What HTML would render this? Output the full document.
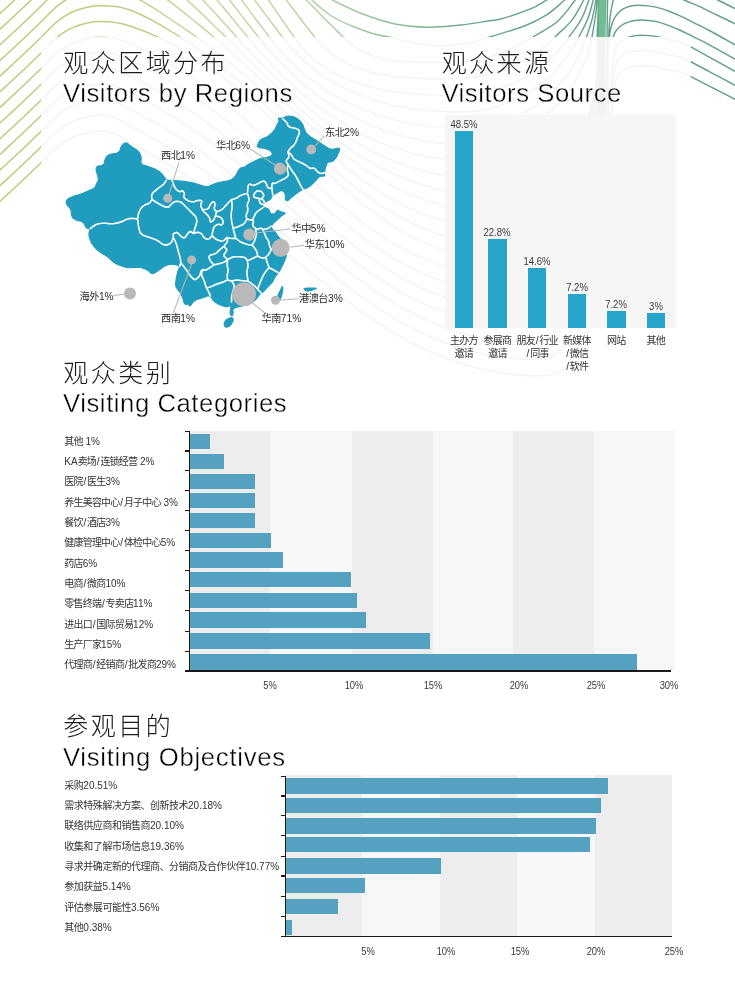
<!DOCTYPE html>
<html lang="zh"><head><meta charset="utf-8"><title>Visitors</title>
<style>
html,body{margin:0;padding:0}
body{width:735px;height:997px;position:relative;overflow:hidden;background:#fff;font-family:"Liberation Sans","Noto Sans CJK SC",sans-serif;color:#222}
#wrap{position:absolute;left:0;top:0;width:735px;height:997px;overflow:hidden;will-change:transform}
.abs{position:absolute}
svg.abs{left:0;top:0}
.t{font-family:"Liberation Sans","Noto Sans CJK SC",sans-serif}
.tc{position:absolute;font-size:25px;line-height:25px;white-space:nowrap;color:#1c1c1c;font-weight:300}
.tc .t{letter-spacing:2.45px}
.ml .t{letter-spacing:-.05em}
.hl .t,.cl .t{letter-spacing:-.08em}
.h2 .t{letter-spacing:-.048em}
.sl{margin:0 .8px}
.te{position:absolute;font-size:25.7px;line-height:38px;letter-spacing:.55px;white-space:nowrap;color:#000;-webkit-text-stroke:.38px #fff}
.ml{position:absolute;font-size:10.2px;line-height:13px;white-space:nowrap;color:#2a2a2a}
.vb{position:absolute;width:18.6px;background:#27a4ca}
.vl{position:absolute;width:60px;text-align:center;font-size:10.6px;line-height:12px;color:#3a3a3a;transform:scaleX(.9)}
.cl{position:absolute;width:80px;text-align:center;font-size:10px;line-height:12.9px;color:#333;white-space:nowrap}
.hb{position:absolute;background:#54a1c1}
.ax{position:absolute;background:#1a1a1a}
.hl{position:absolute;font-size:10px;line-height:13px;white-space:nowrap;color:#333}
.al{position:absolute;width:40px;text-align:center;font-size:10.4px;line-height:13px;color:#3a3a3a;transform:scaleX(.9)}
</style></head><body>
<div id="wrap">
<svg class="abs" width="735" height="997" viewBox="0 0 735 997" fill="none"><defs><linearGradient id="lg" gradientUnits="userSpaceOnUse" x1="0" y1="0" x2="735" y2="0"><stop offset="0" stop-color="#bdcb78"/><stop offset=".177" stop-color="#c0cd80"/><stop offset=".272" stop-color="#c9d49c"/><stop offset=".38" stop-color="#c4d5a6"/><stop offset=".46" stop-color="#a9cfa3"/><stop offset=".545" stop-color="#8abf99"/><stop offset=".61" stop-color="#76af91"/><stop offset=".71" stop-color="#67a48b"/><stop offset="1" stop-color="#64a08c"/></linearGradient><clipPath id="cin"><rect x="41" y="37" width="649.5" height="960"/></clipPath><clipPath id="cout"><path clip-rule="evenodd" d="M0 0H735V997H0ZM41 37V997H690.5V37Z"/></clipPath><path id="wa" d="M-8 208.7C13.1 189.1 30 174.3 50 153.5C64.1 138.8 81.6 131 102 131C115.4 131 124 140 136 146C285.7 220.8 372.6 376 540 376C609.3 376 558.7 253.4 581.5 188C599.7 136.1 602.7 92 604.4 37C604.8 22.2 605.5 10.8 605.8 -4M-8 193C13.1 173.4 30 158.6 50 137.8C64.1 123.1 81.6 115.3 102 115.3C116 115.3 125.4 124.1 138 130.3C285.6 204.1 370 359.5 535 359.5C601.1 359.5 560.4 244.4 582.2 182C599.6 132.2 602.2 89.8 603.8 37C604.2 22.2 604.9 10.8 605.2 -4M-8 177.4C13.1 157.8 30 143 50 122.2C64.1 107.5 81.6 99.7 102 99.7C116.7 99.7 126.8 108.1 140 114.7C285.5 187.5 367.3 343 530 343C593.1 343 562 235.5 582.8 176C599.6 128.3 601.7 87.6 603.2 37C603.7 22.2 604.4 10.8 604.6 -4M-8 161.8C13.1 142.1 30 127.3 50 106.6C64.1 91.8 81.6 84.1 102 84.1C117.4 84.1 128.2 92.2 142 99.1C285.4 170.8 364.6 326.5 525 326.5C585.1 326.5 563.6 226.8 583.5 170C599.5 124.3 601.2 85.4 602.7 37C603.1 22.2 603.8 10.8 604.1 -4M-8 146.1C13.1 126.5 30 111.7 50 90.9C64.1 76.2 81.6 68.4 102 68.4C118.1 68.4 129.6 76.2 144 83.4C285.4 154.1 362 310 520 310C577.4 310 565.2 218.2 584.2 164C599.4 120.4 600.8 83.2 602.2 37C602.6 22.2 603.3 10.8 603.6 -4M-8 130.4C13.1 110.8 30 96 50 75.2C64.1 60.5 81.6 52.8 102 52.8C118.7 52.8 131 60.3 146 67.8C285.3 137.4 359.3 293.5 515 293.5C569.9 293.5 566.7 209.8 584.8 158C599.3 116.5 600.3 81 601.6 37C602 22.2 602.7 10.8 603 -4M-8 114.8C13.1 95.2 30 80.4 50 59.6C64.1 44.9 81.6 37.1 102 37.1C119.4 37.1 132.4 44.3 148 52.1C285.2 120.7 356.6 277 510 277C562.6 277 568.1 201.6 585.5 152C599.3 112.6 599.8 78.8 601.1 37C601.5 22.2 602.2 10.8 602.5 -4M-8 99.2C13.1 79.5 30 64.7 50 44C64.1 29.2 81.6 21.5 102 21.5C112.2 21.5 120.3 22.8 130 26C140.3 29.4 148.2 32.5 158 37C293 99.1 356.4 260.5 505 260.5C555.5 260.5 569.4 193.7 586.1 146C599.2 108.6 599.3 76.6 600.5 37C600.9 22.2 601.6 10.8 601.9 -4M-8 83.5C13.1 63.9 30 49.1 50 28.3C64.1 13.6 81.6 5.8 102 5.8C112.2 5.8 120.4 6.5 130 10C149.2 16.9 162.6 26.2 180 37C296.6 109.3 362.8 244 500 244C548.8 244 570.6 186 586.8 140C599.1 104.7 598.8 74.4 600 37C600.4 22.2 601.1 10.8 601.4 -4M-8 67.9C13.1 48.2 30 33.4 50 12.7C64.1 -2.1 81.6 -9.8 102 -9.8C128.7 -9.8 148.2 3.9 170.2 19C179.6 25.5 187 30.4 196.4 37C300.8 110.2 367.5 227.5 495 227.5C542.3 227.5 571.8 178.7 587.4 134C599 100.8 598.3 72.2 599.4 37C599.8 22.2 600.5 10.8 600.8 -4M-8 52.2C13.1 32.6 30 17.8 50 -3C64.1 -17.7 81.6 -25.5 102 -25.5C138.1 -25.5 164 -3.9 191.9 19C199.8 25.5 206 30.4 213.8 37C303.9 112.5 372.5 211 490 211C536.2 211 572.8 171.7 588 128C598.9 96.9 597.9 70 598.9 37C599.3 22.2 600 10.8 600.2 -4M-8 36.5C13.1 16.9 30 2.1 50 -18.7C64.1 -33.4 81.6 -41.2 102 -41.2C145.7 -41.2 176 -11.4 207.3 19C214 25.5 219.2 30.5 225.8 37C303.3 113.9 375.8 194.5 485 194.5C530.6 194.5 573.7 165 588.7 122C598.9 92.9 597.4 67.8 598.3 37C598.7 22.2 599.4 10.8 599.7 -4M-8 20.9C13.1 1.3 30 -13.5 50 -34.3C64.1 -49 81.6 -56.8 102 -56.8C152.6 -56.8 186.3 -18.5 220.3 19C226.2 25.5 230.9 30.5 236.7 37C304 112.6 378.8 178 480 178C525.3 178 574.4 158.7 589.3 116C598.8 89 596.9 65.6 597.8 37C598.2 22.2 598.9 10.8 599.1 -4M-8 5.2C13.1 -14.4 30 -29.2 50 -50C64.1 -64.7 81.6 -72.5 102 -72.5C159.4 -72.5 196.3 -25.4 232.8 19C238.1 25.5 242.3 30.5 247.5 37C306 109.8 381.6 161.5 475 161.5C520.4 161.5 575 152.8 590 110C598.7 85.1 596.4 63.4 597.2 37C597.6 22.2 598.3 10.8 598.6 -4M224.5 -6C232 2.6 237.1 10 244.2 19C249.3 25.5 253.4 30.5 258.4 37C310.7 104.7 384.5 145 470 145C528.7 145 582.4 94.9 592 37C593.1 30.5 594 25.5 595 19C596 12.5 596.5 7.5 597.3 1C597.5 -0.8 597.6 -2.2 597.7 -4M236.7 -6C244 2.6 248.8 10 255.7 19C260.6 25.5 264.4 30.5 269.3 37C315.7 99.4 387.2 128.5 465 128.5C519.8 128.5 570 89.2 586.5 37C588.5 30.7 590.4 26 592 19.6C593.7 13 594.5 7.7 595.8 1C596.1 -0.8 596.2 -2.2 596.4 -4M249.7 -6C257 2.6 261.8 10 268.7 19C273.6 25.5 277.5 30.5 282.4 37C323.9 92.6 390.6 112 460 112C510.6 112 556.2 82.2 578.8 37C581.9 30.7 584.9 26.1 587.5 19.6C590.1 13.1 591.1 7.7 593 1C593.5 -0.8 593.6 -2.2 594 -4M264.1 -6C270.8 2.7 275.2 10 281.5 19C286 25.5 289.6 30.5 294 37C328.7 88 393.3 95.5 455 95.5C501.1 95.5 542.8 75 569 37C573.3 30.7 577.4 26.3 581 19.6C584.5 13.2 586 7.8 588.6 1C589.3 -0.7 589.5 -2.2 590 -4M281.3 -6C288.7 2.6 293.7 10 300.6 19C305.7 25.5 309.6 30.5 314.6 37C345.5 77.6 399 79 450 79C490.7 79 526.3 65.9 555 37C561.2 30.7 566.9 26.6 572.3 19.6C577.1 13.5 579.4 7.8 583.2 1C584.2 -0.7 584.7 -2.2 585.5 -4M300 -6C309.5 2.5 316 10 325 19C331.5 25.5 336.6 30.5 343 37C369.5 64 407.1 62.5 445 62.5C478 62.5 505.1 54.6 533 37C541.6 31.5 549.3 28.5 557 21.8C564.4 15.4 568.4 8.7 574.5 1C575.8 -0.6 576.4 -2.2 577.5 -4M305 -6C314 1.6 320.3 8.4 330 15C337.3 20 343.7 22.5 351.8 26C359.4 29.3 365.6 31.3 373.5 33.7C378.9 35.3 383.3 35.8 388.8 37C398.2 39.1 405.5 41.3 415 43C423.9 44.6 430.9 45.9 440 46C449 46.1 456 44.4 465 43.5C474.1 42.6 480.9 39.8 489.6 37C502.1 33 512.1 30.7 524.4 26C532.6 22.9 538.8 19.9 546.2 15.2C553 10.9 557.5 6.3 563.6 1C565.4 -0.6 566.4 -2.2 568 -4M320 -8C325.2 -4.8 329 -1.8 334.4 1C344.4 6.1 352.2 10 362.7 14C374.2 18.3 383.3 21.6 395.3 24C406.9 26.3 416.2 27 428 27.2C439.8 27.4 448.9 26.2 460.6 25C471.2 23.9 479.4 22.3 490 20.7C494.6 20 498.2 19.8 502.7 18.5C513 15.5 521 12.8 531 8.7C536.3 6.5 540.1 4 545 1C548.1 -0.9 550.1 -2.8 553 -5"/><path id="wb" d="M608.2 -4C608 -2.3 607.7 -0.7 607.6 1C607.2 13.2 607.2 24.8 607 37C606.8 51.6 606.5 65.4 606.5 80C606.5 107.2 606.8 132.8 607 160M615 -4C614.3 -2.3 613.4 -0.8 613 1C611.7 6.5 610.7 11.8 610 17.4C609.2 24 608.8 30.3 608.6 37C608.1 51.6 608 65.4 608 80C608.1 107.2 608.7 132.8 609 160M609.3 37C609.8 33.9 610 31 610.8 28C611.6 24.9 612.6 21.9 614 19C615.2 16.6 616.7 14.5 618.5 12.5C620 10.9 621.7 9.6 623.6 8.6C626 7.4 628.4 6.6 631 6C633.6 5.4 636.1 5.3 638.8 5.3C641.9 5.3 644.9 5.5 648 5.9C651.4 6.3 654.6 6.8 657.9 7.6C661.7 8.6 665.3 9.8 669 11.2C673 12.7 676.8 14.4 680.7 16.2C685.6 18.5 690.1 20.9 695 23.3C699.9 25.7 704.5 27.9 709.3 30.5C718.1 35.2 726.3 39.9 735 44.8C738.4 46.7 741.6 48.6 745 50.5M613 37C613.9 35.1 614.4 33.2 615.5 31.5C616.7 29.7 618.2 28.2 619.8 26.7C621.1 25.5 622.5 24.6 624 23.8C625.7 22.9 627.5 22.5 629.3 21.9C631.2 21.3 633 20.8 635 20.5C636.9 20.2 638.8 20 640.7 20C643.5 20 646.2 20.2 649 20.5C652 20.8 654.9 21.1 657.9 21.9C661.8 22.9 665.3 24.2 669 25.6C673 27.1 676.8 28.7 680.7 30.5C685.6 32.8 690.1 35.2 695 37.6C699.9 40 704.5 42.2 709.3 44.8C718.1 49.5 726.3 54.2 735 59C738.4 60.9 741.6 62.6 745 64.5M611 92.2C611.7 82 611.9 72.4 613 62.2C613.6 56.9 614.1 51.7 616 46.7C616.8 44.6 618.8 43.4 620.5 41.9C621.9 40.7 623.4 39.7 625 38.8C626.8 37.9 628.6 37.3 630.5 36.7C632.2 36.2 633.8 35.9 635.5 35.6C637.3 35.3 638.9 35.2 640.7 35.2C643.5 35.2 646.2 35.3 649 35.6C652 35.9 654.9 36.2 657.9 36.8C661.7 37.6 665.2 38.9 669 39.8C673 40.8 676.8 41 680.7 42.3C684.1 43.4 687 45.1 690.2 46.7C696.8 50.1 702.8 53.5 709.3 57.1C718.1 61.9 726.3 66.5 735 71.4C738.4 73.3 741.6 75.1 745 77M611.4 107.4C612.1 97.2 612.4 87.6 613.5 77.4C614.1 72.1 614.8 67 616.5 61.9C617.2 59.9 618.9 58.5 620.5 57.1C621.9 55.8 623.4 54.9 625 54C626.8 53.1 628.6 52.5 630.5 51.9C632.2 51.4 633.8 51.1 635.5 50.8C637.3 50.5 638.9 50.4 640.7 50.4C643.5 50.4 646.2 50.5 649 50.8C652 51.1 654.9 51.4 657.9 52C661.7 52.8 665.2 54 669 54.9C673 55.8 676.8 56 680.7 57.2C684.1 58.3 687 59.9 690.2 61.5C696.8 64.8 702.8 68.1 709.3 71.6C718.1 76.3 726.3 80.7 735 85.4C738.4 87.3 741.6 89.1 745 91M611.8 122.6C612.5 112.4 612.8 102.8 614 92.6C614.6 87.3 615.4 82.2 617 77.1C617.6 75.2 619.1 73.7 620.5 72.3C621.8 71 623.4 70.1 625 69.2C626.8 68.3 628.6 67.7 630.5 67.1C632.2 66.6 633.8 66.3 635.5 66C637.3 65.7 638.9 65.6 640.7 65.6C643.5 65.6 646.2 65.7 649 66C652 66.3 654.9 66.6 657.9 67.2C661.7 68 665.2 69.2 669 70C673 70.8 676.8 70.9 680.7 72.1C684.1 73.1 687 74.7 690.2 76.3C696.8 79.5 702.8 82.8 709.3 86.1C718 90.6 726.3 94.8 735 99.4C738.4 101.2 741.6 103.1 745 105M670 -6C675.6 -3.6 680.8 -1.4 686.4 1C690.3 2.7 694.1 4 698 5.8C701.9 7.6 705.4 9.5 709.3 11.4C713.6 13.5 717.7 15.4 722 17.5C726.4 19.6 730.6 21.6 735 23.8C738.4 25.5 741.6 27.1 745 28.8M705 -6C710 -3.6 714.8 -1.4 719.8 1C725 3.5 729.8 6 735 8.6C738.4 10.3 741.6 12 745 13.8"/></defs><g clip-path="url(#cout)" stroke-width="1.45"><use href="#wa" stroke="url(#lg)"/><rect x="598.6" y="-2" width="6.9" height="150" fill="#70be94"/><use href="#wb" stroke="#64a08c"/></g><g clip-path="url(#cin)" stroke-width="1.5" stroke="#f4f4f4"><use href="#wa"/><rect x="598.6" y="30" width="6.9" height="100" fill="#f2f2f2" stroke="none"/><use href="#wb"/></g></svg>
<div class="tc" style="left:63.3px;top:51.1px"><span class="t">观众区域分布</span></div>
<div class="te" style="left:63px;top:73.7px">Visitors by Regions</div>
<div class="tc" style="left:441.7px;top:51.1px"><span class="t">观众来源</span></div>
<div class="te" style="left:441.4px;top:73.7px">Visitors Source</div>
<div class="tc" style="left:63.3px;top:361.1px"><span class="t">观众类别</span></div>
<div class="te" style="left:63px;top:383.7px">Visiting Categories</div>
<div class="tc" style="left:63.3px;top:713.6px"><span class="t">参观目的</span></div>
<div class="te" style="left:63px;top:737.7px;letter-spacing:0.7px">Visiting Objectives</div>
<svg class="abs" width="735" height="997" viewBox="0 0 735 997"><g fill="#209cbe" stroke="#209cbe" stroke-width="1.1" stroke-linejoin="round"><path d="M127 143 129.3 144.9 132.5 147.1 136.5 149.6 139.3 152.4 140.8 155.5 141.3 158.8 140.8 162.4 142.4 164.7 146 165.7 150.4 167.2 155.4 169.3 159.2 171.5 161.7 173.8 163.8 176.3 165.5 179.1 168 180.4 171.4 180.4 175.1 180.6 179.3 180.9 183.7 181.4 188.4 182.1 192.9 182.9 196.9 184 201 185.2 205.1 186.5 208.8 186.3 212.2 184.7 216 183.3 220 182.3 224.1 181.5 228.3 180.8 231.5 179.6 233.8 177.8 235.5 176 236.6 173.9 237.8 171.7 239.1 169.4 241.2 167.8 243.8 167.2 245.7 166.4 246.6 165.4 248.9 164.1 252.5 162.3 256.1 160.5 259.6 158.8 263.4 157.7 267.3 157.3 270.2 156.4 272 155 272.3 153.4 271.2 151.6 269.3 150.1 266.4 148.9 263 148.1 259.1 147.6 257.3 146.5 257.7 144.5 258.6 142.5 260 140.4 262.3 138.8 265.5 137.6 268.7 135.7 272 132.8 274.3 130.2 275.7 127.7 277.1 125 278.6 122.1 279 120 278.2 118.6 279.1 118.1 281.6 118.4 283.8 117.9 285.5 116.7 288 116.1 291.3 116.3 294.3 117.1 297.2 118.6 299.7 120.5 301.8 123 303.4 126.1 304.5 129.6 305.9 132.5 307.7 134.6 310.7 136.9 315 139.4 318.9 141.9 322.5 144.4 326.1 146.8 329.6 148.9 333.5 149.3 337.9 148.1 339.6 148.8 339 151.5 337.9 154.3 336.4 157.2 334.6 159.5 332.5 161.2 330.5 161.9 328.8 161.6 327.3 162.8 326.2 165.7 325.3 168.5 324.7 171.5 324.5 173.8 324.8 175.5 323.8 176.2 321.2 175.9 318.9 176.9 316.8 179.4 314.6 181.8 312.5 183.9 310.3 185.7 308.2 187.2 306.1 188.2 303.9 189 301.8 190 299.5 191.4 297.2 193 294.7 194.9 292.6 196.6 290.8 198.1 289.1 199.5 287.6 200.7 286.4 200.7 285.4 199.5 285.1 198 285.5 196.1 285.2 194.3 284.2 192.4 283.2 191.2 281.9 190.6 280.7 190.6 279.5 191.2 278.3 192 277 192.9 275.5 193.8 273.6 194.5 272.1 196 270.9 198.5 269.4 200.1 267.4 201.1 265.9 201.8 264.8 202.2 264 203.1 263.5 204.4 263.3 205.6 263.3 206.8 264 207.6 265.3 207.8 266.7 208.3 268 208.8 269 209.7 269.5 210.9 269.9 211.9 270.2 212.8 270.9 213.4 271.9 213.8 273 214 273.9 214 274.8 213.5 275.6 212.5 276.4 211.5 277.2 210.4 278.2 210.3 279.5 211.1 280.8 211.7 282.3 212.1 283.7 212.5 285.1 213 284.8 213.8 282.7 215 280.9 216.4 279.2 218.1 277.4 219.7 275.4 221.3 273.6 223.1 271.9 225.2 271.3 226.8 271.7 228.1 272.7 229.5 274.4 231.1 275.8 232.9 277.2 235 278.6 236.9 280.2 238.6 282.2 241.6 284.5 245.6 285.9 249.7 286.4 253.8 285.9 257.6 284.4 261.2 282.7 265 280.6 269.1 278.6 272.4 276.5 274.9 274.7 277.7 273.2 280.8 271.1 283.6 268.6 286.1 266.1 288.7 263.7 291.4 261.8 293 260.5 293.7 259.1 295 257.8 297.1 256.1 299.1 254 301.2 251.5 302.8 248.4 304.2 245.4 305.2 242.2 305.9 239.3 306.6 236.7 307.3 234.6 308.1 233.3 309.2 232.8 310.4 233.1 311.7 233.1 313.2 232.8 315 232.1 315.6 231 315.3 230.3 314.1 230.1 312 230.2 310 230.9 307.9 230.9 306.6 230.2 305.9 229.2 305.9 227.8 306.6 225.8 306.6 223 305.9 220.5 305.1 218.1 304 216.1 302.8 214.3 301.5 212.8 299.8 211.5 297.7 210.1 296.4 208.8 295.7 207.1 295.9 205 296.9 202.8 297.8 200.5 298.5 198.3 299.1 196.2 299.8 194.3 301 192.7 302.6 191.3 304.4 190.2 306 189.4 306 188.7 304.4 187.7 303.9 186.3 304.5 185.1 304.2 184.1 302.9 183.4 301.2 183.1 299.1 182.2 296.8 180.9 294 179.5 291.8 178.2 290.2 177 288.5 175.9 286.8 175.6 284.2 175.9 280.7 176.4 277.3 177.2 273.9 177.9 271.1 178.8 268.9 179 267.2 178.8 265.8 176.8 264.9 173 264.3 169.4 264.5 165.9 265.5 162.6 267.3 159.5 269.8 156.4 271.9 153.4 273.4 150.8 273.2 148.8 271.1 145.8 269.3 141.6 267.8 137 267.3 132 267.8 127.4 267.6 123.2 266.5 119.4 265.2 115.9 263.8 112.6 261.4 109.5 258.4 106.2 255.8 102.6 253.8 99.3 251.5 96.2 249 93.7 246.1 91.6 243.1 90.1 239.6 89 235.9 89 232.6 89.9 229.9 89.4 228.5 87.3 228.5 85.5 226.8 84 223.2 81.5 221.2 78 220.8 75 219.5 72.5 217.5 71.3 214.7 71.3 211.2 70 208.2 67.5 205.7 66.3 203.2 66.3 200.7 68.3 198.6 72.3 196.8 75.8 195.6 78.8 194.8 82.9 193.3 88 191.1 91.5 189.6 93.5 188.8 95.1 187.1 96.3 184.3 97.3 182.3 98.1 181 98.3 179.1 97.9 176.6 97.3 174.3 96.5 172.1 96.1 169.8 96.3 167.5 98.3 166 102 165.5 104.2 163.7 104.7 160.6 105.8 157.9 107.5 155.7 111.1 154.1 116.5 153.4 119.7 151.2 120.7 147.6 122.4 144.9 124.7 143Z"/><path d="M224.8 321.9 225.5 320.6 226.8 319.4 228.9 318.3 230.7 317.8 232.2 317.8 233 318.5 233.2 319.8 232.8 321.5 231.7 323.6 230.5 325.2 229.2 326.3 227.8 327 226.2 327.2 225.2 326.8 224.4 325.8 224.2 324.6 224.3 323.3Z"/><path d="M281.9 287 281 289 280 291.1 278.8 293.4 277.9 295.4 277.4 297.1 277.3 298.6 277.7 300 278.2 300.5 279.2 300.3 280 299.4 280.8 297.8 281.5 295.9 282 293.6 282.5 291.5 282.8 289.5 282.8 287.9 282.5 286.6Z"/><path d="M305.2 288.2 308.4 288.1 311.8 288.1 315.2 288.1 316.3 288.5 314.9 289.1 313.3 289.8 311.4 290.4 309.7 290.8 308.1 291.1 306.7 291 305.6 290.6 304.6 289.8 304 288.8Z"/></g><path fill="none" stroke="#fff" stroke-width="1.65" stroke-linejoin="round" stroke-linecap="round" d="M90.4 228.5 91.4 227.8 93.4 226.2 95 225.2 96.1 224.5 98.6 223.8 102.5 223.2 106.1 223.2 109.3 223.8 113.5 223.7 118.7 222.6 123.2 221.1 127.4 219.1 131.5 218.3 135.5 218.8 137.6 219.1M137.6 219.1 137.8 217.6 138.3 214.5 139.3 211.5 140.8 208.5 142.7 206.4 144.9 205.1 146.9 204.1 148.9 203.4 150.4 202.1 151.4 200.4 152 199.5M152 199.5 151.8 198.1 151.6 195.4 152.8 192.8 155.5 190.5 158.5 188.1 161.9 185.7 164.3 183.5 165.6 181.4 166.3 180.4M152 199.5 153.6 200.5 156.6 202.5 160.6 204.7 165.3 207.1 168.7 207.1 170.8 204.7 172.8 202.8 174.9 201.5 177.2 201.2 180 201.8 182.7 203.5 185.3 206.2 188.1 209 190.8 211.7 193.2 214.1 195.3 216.1 196.5 218.5 196.8 221.2 196.4 223.9 195.4 226.7 194.6 229.4 193.8 232.1 193.5 233.5M137.6 219.1 137.8 221.1 138.3 225.2 139.1 229 140.1 232.6 142.9 235.2 147.5 236.7 151.9 238.2 155.9 239.7 159.5 241.8 162.6 244.3 165.9 245.1 169.4 244.1 171.7 242 172.8 239 173.3 237.4M173.3 237.4 173.3 236.4 173.1 234.5 174.1 233.2 176.2 232.4 178 233.1 179.8 235.2 181.6 236.8 183.5 237.9 185.1 237.5 186.4 235.5 187.8 233.6 189.2 231.9 190.9 231.6 192.6 232.9 193.5 233.5M173.3 237.4 174.1 239 175.6 242 176.8 245.6 177.9 249.7 178.9 253.5 179.9 257.1 180.6 259.9 180.8 262 180.6 263.9 179.8 265.7 179.4 266.6M181 263 182.4 264.8 185.1 268.3 187.5 271.6 189.6 274.7 191.6 277.2 193.7 279.3 196 279.3 198.5 277.2 200.1 274.9 200.6 272.4 201.4 270.7 202.4 269.9 203 269.5M203 269.5 203.7 269.7 205.2 270.1 206.9 269.6 209 268.3 211 266.9 213 265.6 214 264.9M203 269.5 202.5 270.8 201.5 273.2 201.8 275.9 203.2 278.6 204.5 281.8 205.5 285.2 206.6 288.1 207.9 290.4 209 292.6 210 294.9 210.5 296M206.5 288 207.7 287.7 210.1 287 212.7 286 215.4 284.6 218.2 283.6 220.8 282.9 223.6 281.9 226.3 280.6 227.7 279.9M214 264.9 213 263.9 211 261.8 209.7 259.5 208.9 256.8 210.3 255.1 213.7 254.3 216.4 253 218.5 250.9 220.5 249.1 222.6 247.3 223.6 246.5M227 237.7 227.2 238.7 227.5 240.8 226.7 243 224.6 245.3 224.6 247.3 226.7 249.1 226.5 251.3 224.1 254 224.1 256.4 226.5 258.5 227.7 259.5M214 264.9 215.4 264.5 218.1 263.9 220.7 263.2 223.1 262.5 225.2 261.5 226.8 260.2 227.7 259.5M227.7 259.5 227.5 260.9 227.2 263.5 227.3 266.2 228 269 228 271.7 227.3 274.4 227.2 276.8 227.5 278.9 227.7 279.9M227.7 279.9 228.7 280.2 230.7 280.9 232.7 280.9 234.8 280.2 237.2 280 239.9 280.4 243 280.7 246.4 281 248.1 281.2M247.4 260.8 247.6 262.2 247.9 264.9 247.8 267.7 247 270.3 246.9 273 247.2 275.8 247.6 278.1 247.9 280.2 248.1 281.2M227.7 259.5 229 258.8 231.8 257.4 234.8 256.7 238.2 256.7 241.2 256.9 244 257.2 245.8 258.2 246.9 260 248.6 260.3 250.9 259.3 253.5 258.1 256.2 256.8 257.6 256.1M193.5 233.5 194.5 233.2 196.6 232.4 198.6 232.4 200.7 233.2 202.3 234.6 203.4 236.9 205.2 238.4 207.4 239.3 209.4 238.7 211.2 236.6 212.8 236.4 214.6 238.2 217.1 239.7 220.5 241.1 223.4 240.8 225.8 238.7 227 237.7M212 235.6 212.2 234.7 212.4 233 212.9 230.8 213.6 228 214.9 226 217 224.6 219 224.2 221.1 225 222.4 224.3 223.2 222.2 222.8 220.2 221.4 218.1 219.3 216.8 216.7 216.1 215.3 215.8M202.4 209.7 202.9 210.4 203.9 211.7 205.1 212.9 206.4 213.9 207.8 215.4 209.2 217.5 210.1 219.5 210.3 221.6 211.3 221.9 213.1 220.6 214.2 218.9 215 216.8 215.3 215.8M202.4 209.7 203.9 209.5 207 209.2 208.8 208 209.6 205.9 210.8 203.9 212.5 201.8 213.8 201.7 214.8 203.3 215 205.4 214.2 207.8 214.6 209.7 216 211 216.3 212.7 215.7 214.8 215.3 215.8M172 180.5 172.8 182.5 174.4 186.6 176.2 189.4 178.3 191.2 180.2 191.7 181.8 190.9 183.2 191.4 184.2 193.2 184.3 194.8 183.7 196.6 184.5 198.2 186.9 200 189.3 201.2 191.7 201.8 194.2 201.7 197 200.6 199.3 200.3 201.4 200.6 201.9 201.8 200.8 203.9 200.8 206.1 201.9 208.5 202.4 209.7M216.7 211.7 218 211.2 220.8 210.2 223.3 208.3 225.7 205.6 228.1 203 230.4 200.7 231.6 199.5M231.6 199.5 231.8 201.2 232.1 204.6 232 208.3 231.3 212.4 231.2 216.1 231.4 219.5 231.9 222.9 232.7 226.3 233.4 229.4 234.1 232.2 234.8 234.8 235.5 237.2 235.8 238.4M227 237.7 228 237.9 230 238.3 232.2 238.5 234.6 238.4 235.8 238.4M231.6 199.5 232.7 199.3 234.9 198.8 237 197.8 239.1 196.3 241.1 195.2 243 194.5 244.8 194 246.6 193.8 247.4 193.6M247.4 193.6 247.9 195.1 249 198.2 248.9 200.9 247.6 203.4 247.3 206 247.9 208.9 247.6 211.6 246.4 214.3 246.1 216.4 246.7 218.2 247 219M233 228 233.8 227.8 235.2 227.6 236.8 227.1 238.5 226.5 240.5 225.6 243 224.4 244.9 222.6 246.3 220.2 247 219M247.4 193.6 247.5 192.4 247.7 190.2 247.9 188 248.1 186 248.8 184.7 250.1 184.1 251.1 184.3 251.9 185.3 253.5 185.4 256 184.6 258.2 183.6 260.3 182.3 262.1 181.5 263.8 181.1 265.1 181.7 266.1 183.4 266.8 185 267.2 186.6 268 187.6 269.4 188.1 270.5 188.3 271.4 188.2 271.9 188.2M271.9 188.2 272 189 272.2 190.7 272.4 192.3 272.6 194 272.7 194.8M271.9 188.2 271.9 186.9 271.9 184.2 272.7 183.1 274.4 183.4 276.6 182.8 279.6 181.1 282.2 179.7 284.8 178.4 286.7 177.2 288 175.8 288.3 173.9 287.5 171.3 287.3 168.6 287.7 165.7 287.9 164.3M287.9 164.3 288.8 165.7 290.5 168.6 292.5 171.4 294.6 174.3 296.4 177.1 297.9 180 299.3 182.8 300.7 185.7 301.8 187.6 302.5 188.8 302.9 189.3M287.9 152.1 288.2 153.3 289 155.8 288.4 158 286.6 159.8 286.2 161.6 287.3 163.4 287.9 164.3M287.9 152.1 288.8 152.6 290.5 153.8 291.9 155.6 293.1 158.1 295.2 160 298.4 161.4 301.4 162.8 304.3 164.3 306.8 165.9 308.9 167.7 311.1 168.4 313.2 168.1 315 168.8 316.4 170.5 317.8 172 319.3 173 321.1 173.4 323.2 173.1 324.3 172.9M282.9 118.9 283.9 119.9 286.1 121.9 287.5 124 288.2 126 290.7 127.5 295 128.2 297.8 129.3 299.3 130.7 299.3 133.2 297.8 136.8 296.6 140 295.5 142.9 293.8 145.4 291.2 147.5 289.5 149.5 288.4 151.2 287.9 152.1M263.3 207.4 262.2 208.1 260 209.6 258.3 210.8 257 211.8 255.7 213.5 254.3 216 253.4 217.8 253 219.2 252.8 219.8M247 219 247.8 219.2 249.2 219.6 250.7 219.8 252.1 219.8 252.8 219.8M252.8 219.8 253 220.4 253.4 221.5 253.3 222.9 252.6 224.6 253.1 226.2 254.8 227.9 255.6 228.7M255.6 228.7 256.2 228.9 257.4 229.3 258.6 229.1 259.9 228.3 261.1 228.3 262.3 229.1 264.1 229.3 266.6 228.9 268.6 228.1 270.3 226.8 271.1 226.2M235.8 238.4 237.2 239.4 239.9 241.4 242.8 242.9 245.9 244 248.6 244.7 250.9 245 252.1 245.2M255.6 228.7 255.8 229.9 256.2 232.4 256.2 234.6 255.8 236.7 255.3 238.5 254.8 240.2 253.9 242.1 252.7 244.1 252.1 245.2M252.1 245.2 252.4 245.5 253.2 246.2 254.3 247.7 256 250.1 257.1 252.5 257.4 254.9 257.6 256.1M262.9 229.5 263.3 230.5 264.2 232.6 265 234.6 265.8 236.7 266.8 238.5 268.1 240.1 268.9 242.1 269.3 244.6 269.9 246.8 270.8 248.6 271.2 249.6M271.2 249.3 271.9 248.8 273.2 247.7 274.9 246.6 277 245.6 279 244.2 281 242.8 282 242M271.2 249.3 270.7 250.5 269.6 252.8 268.2 254.8 266.5 256.5 265.7 257.4M265.7 257.4 264.7 257.6 262.7 257.9 260.7 257.6 258.6 256.6 257.6 256.1M265.7 257.4 266 258.6 266.8 261 267.6 263.5 268.6 266.2 269.1 267.6M269.1 267.6 270.3 268.3 272.7 269.6 274.9 270.8 277 271.9 278 272.4M269.1 267.6 267.9 269 265.6 271.7 263.7 274.5 262.4 277.1 261.2 279.9 260.1 282.5 259.1 285.3 258.1 288 257.6 289.4M257.6 289.4 258.6 290.4 260.7 292.5 261.7 293.5M248.1 281.2 249.1 281.9 251.1 283.2 252.9 284.6 254.7 286 256 287.4 257.1 288.7 257.6 289.4M231.7 281.2 232.4 282.2 233.8 284.3 234.2 286.7 233.4 289.3 232.8 292.1 232 294.8 231.6 297.6 231.6 300.6 231.5 302M254.8 193.1 255.2 192.6 256.1 191.7 256.9 191.1 257.6 190.8 258.6 190.8 259.9 190.9 260.9 191.3 261.7 192 262.5 192.7 263.1 193.6 263.6 194.4 263.7 195.2 263.6 196.1 263.1 197 262.4 197.8 261.7 198.6 260.7 198.8 259.6 198.7 258.6 198.4 257.6 198.2 256.6 197.9 255.6 197.7 254.7 197.4 253.9 197 253.6 196.3 253.8 195.3 254.1 194.4 254.6 193.5 254.8 193.1M261.3 198.9 261.9 199.3 263.2 200.1 263.9 201 264.1 202 264.2 202.5M259.3 198.6 259.3 199.1 259.3 200.3 259.6 201.6 260.2 203.1 261.1 203.9 262.3 204.1 263 204.4 263.2 204.8 263.3 205"/><g stroke="#b7b7b7" stroke-width="1.05" fill="none"><path d="M179 162.1L169.2 193.8"/><path d="M250 148.9L275.5 165.2"/><path d="M315.3 145.8L324.5 135.6"/><path d="M255.5 233L289.8 228.9"/><path d="M289.8 247.2L304.1 245.2"/><path d="M279.6 300.3L298 298.7"/><path d="M252 302.8L266.3 314"/><path d="M191.6 264L173.3 313"/><path d="M114 295.6L123.9 294.2"/></g><g fill="#b9b9b9"><circle cx="167.8" cy="198.3" r="4.5"/><circle cx="280" cy="168.7" r="6.1"/><circle cx="311.2" cy="149.5" r="4.9"/><circle cx="249.4" cy="234.6" r="6.1"/><circle cx="280.7" cy="247.8" r="9"/><circle cx="244" cy="294.2" r="12"/><circle cx="275.5" cy="300.3" r="4.5"/><circle cx="191.6" cy="259.9" r="4.5"/><circle cx="130" cy="293.6" r="6"/></g></svg>
<div class="ml" style="left:161px;top:149.3px"><span class="t">西北</span>1%</div>
<div class="ml" style="left:216px;top:138.6px"><span class="t">华北</span>6%</div>
<div class="ml" style="left:325px;top:126.4px"><span class="t">东北</span>2%</div>
<div class="ml" style="left:291.5px;top:221.8px"><span class="t">华中</span>5%</div>
<div class="ml" style="left:304.8px;top:238.4px"><span class="t">华东</span>10%</div>
<div class="ml" style="left:299px;top:291.7px"><span class="t">港澳台</span>3%</div>
<div class="ml" style="left:261.5px;top:312.4px"><span class="t">华南</span>71%</div>
<div class="ml" style="left:161px;top:312.4px"><span class="t">西南</span>1%</div>
<div class="ml" style="left:79.6px;top:290px"><span class="t">海外</span>1%</div>
<div class="abs" style="left:445px;top:114.5px;width:231px;height:213.5px;background:#f6f6f6"></div>
<div class="vb" style="left:454.5px;top:130.9px;height:196.9px"></div>
<div class="vl" style="left:433.8px;top:117.9px">48.5%</div>
<div class="cl" style="left:423.8px;top:335px"><span class="t">主办方</span><br><span class="t">邀请</span></div>
<div class="vb" style="left:488.1px;top:238.9px;height:88.9px"></div>
<div class="vl" style="left:467.4px;top:225.9px">22.8%</div>
<div class="cl" style="left:457.4px;top:335px"><span class="t">参展商</span><br><span class="t">邀请</span></div>
<div class="vb" style="left:527.9px;top:268.1px;height:59.7px"></div>
<div class="vl" style="left:507.2px;top:255.1px">14.6%</div>
<div class="cl" style="left:497.2px;top:335px"><span class="t">朋友</span><span class="sl">/</span><span class="t">行业</span><br><span class="sl">/</span><span class="t">同事</span></div>
<div class="vb" style="left:567.5px;top:294.1px;height:33.7px"></div>
<div class="vl" style="left:546.8px;top:281.1px">7.2%</div>
<div class="cl" style="left:536.8px;top:335px"><span class="t">新媒体</span><br><span class="sl">/</span><span class="t">微信</span><br><span class="sl">/</span><span class="t">软件</span></div>
<div class="vb" style="left:607px;top:311.1px;height:16.7px"></div>
<div class="vl" style="left:586.3px;top:298.1px">7.2%</div>
<div class="cl" style="left:576.3px;top:335px"><span class="t">网站</span></div>
<div class="vb" style="left:646.5px;top:312.9px;height:14.9px"></div>
<div class="vl" style="left:625.8px;top:299.9px">3%</div>
<div class="cl" style="left:615.8px;top:335px"><span class="t">其他</span></div>
<div class="abs" style="left:190.4px;top:430.6px;width:79.4px;height:240.5px;background:#ededed"></div>
<div class="abs" style="left:269.8px;top:430.6px;width:82.3px;height:240.5px;background:#f7f7f7"></div>
<div class="abs" style="left:352.1px;top:430.6px;width:81.2px;height:240.5px;background:#ededed"></div>
<div class="abs" style="left:433.3px;top:430.6px;width:79.7px;height:240.5px;background:#f7f7f7"></div>
<div class="abs" style="left:513px;top:430.6px;width:81px;height:240.5px;background:#ededed"></div>
<div class="abs" style="left:594px;top:430.6px;width:81px;height:240.5px;background:#f7f7f7"></div>
<div class="hb" style="left:190.4px;top:433.6px;width:19.4px;height:15.3px"></div>
<div class="hb" style="left:190.4px;top:453.7px;width:33.2px;height:15.4px"></div>
<div class="hb" style="left:190.4px;top:473.5px;width:64.2px;height:15.4px"></div>
<div class="hb" style="left:190.4px;top:492.9px;width:64.2px;height:15px"></div>
<div class="hb" style="left:190.4px;top:512.9px;width:64.2px;height:15.6px"></div>
<div class="hb" style="left:190.4px;top:532.7px;width:80.9px;height:15.2px"></div>
<div class="hb" style="left:190.4px;top:552.4px;width:93.1px;height:15.9px"></div>
<div class="hb" style="left:190.4px;top:571.6px;width:161px;height:15.5px"></div>
<div class="hb" style="left:190.4px;top:592.6px;width:166.6px;height:15.6px"></div>
<div class="hb" style="left:190.4px;top:612.4px;width:175.6px;height:15.6px"></div>
<div class="hb" style="left:190.4px;top:633.3px;width:239.4px;height:15.3px"></div>
<div class="hb" style="left:190.4px;top:654.3px;width:446.9px;height:15.5px"></div>
<div class="ax" style="left:188.8px;top:430.5px;width:1.6px;height:241.3px"></div>
<div class="ax" style="left:185.2px;top:670.4px;width:486.1px;height:1.5px"></div>
<div class="ax" style="left:185.2px;top:430.6px;width:4.4px;height:1.3px"></div>
<div class="ax" style="left:185.2px;top:450.4px;width:4.4px;height:1.3px"></div>
<div class="ax" style="left:185.2px;top:470px;width:4.4px;height:1.3px"></div>
<div class="ax" style="left:185.2px;top:490px;width:4.4px;height:1.3px"></div>
<div class="ax" style="left:185.2px;top:510px;width:4.4px;height:1.3px"></div>
<div class="ax" style="left:185.2px;top:530px;width:4.4px;height:1.3px"></div>
<div class="ax" style="left:185.2px;top:549.9px;width:4.4px;height:1.3px"></div>
<div class="ax" style="left:185.2px;top:570px;width:4.4px;height:1.3px"></div>
<div class="ax" style="left:185.2px;top:590.1px;width:4.4px;height:1.3px"></div>
<div class="ax" style="left:185.2px;top:610.1px;width:4.4px;height:1.3px"></div>
<div class="ax" style="left:185.2px;top:630.5px;width:4.4px;height:1.3px"></div>
<div class="ax" style="left:185.2px;top:651px;width:4.4px;height:1.3px"></div>
<div class="hl" style="left:64.3px;top:434.6px"><span class="t">其他</span> 1%</div>
<div class="hl" style="left:64.3px;top:454.9px">KA<span class="t">卖场</span><span class="sl">/</span><span class="t">连锁经营</span> 2%</div>
<div class="hl" style="left:64.3px;top:475.3px"><span class="t">医院</span><span class="sl">/</span><span class="t">医生</span>3%</div>
<div class="hl" style="left:64.3px;top:495.6px"><span class="t">养生美容中心</span><span class="sl">/</span><span class="t">月子中心</span> 3%</div>
<div class="hl" style="left:64.3px;top:516px"><span class="t">餐饮</span><span class="sl">/</span><span class="t">酒店</span>3%</div>
<div class="hl" style="left:64.3px;top:536.3px"><span class="t">健康管理中心</span><span class="sl">/</span><span class="t">体检中心</span>5%</div>
<div class="hl" style="left:64.3px;top:556.6px"><span class="t">药店</span>6%</div>
<div class="hl" style="left:64.3px;top:577px"><span class="t">电商</span><span class="sl">/</span><span class="t">微商</span>10%</div>
<div class="hl" style="left:64.3px;top:597.3px"><span class="t">零售终端</span><span class="sl">/</span><span class="t">专卖店</span>11%</div>
<div class="hl" style="left:64.3px;top:617.7px"><span class="t">进出口</span><span class="sl">/</span><span class="t">国际贸易</span>12%</div>
<div class="hl" style="left:64.3px;top:638px"><span class="t">生产厂家</span>15%</div>
<div class="hl" style="left:64.3px;top:658.3px"><span class="t">代理商</span><span class="sl">/</span><span class="t">经销商</span><span class="sl">/</span><span class="t">批发商</span>29%</div>
<div class="al" style="left:250px;top:679.2px">5%</div>
<div class="al" style="left:333.5px;top:679.2px">10%</div>
<div class="al" style="left:413.3px;top:679.2px">15%</div>
<div class="al" style="left:499.4px;top:679.2px">20%</div>
<div class="al" style="left:576.1px;top:679.2px">25%</div>
<div class="al" style="left:649.3px;top:679.2px">30%</div>
<div class="abs" style="left:285.4px;top:775.4px;width:76.5px;height:161.1px;background:#ededed"></div>
<div class="abs" style="left:361.9px;top:775.4px;width:77.8px;height:161.1px;background:#f7f7f7"></div>
<div class="abs" style="left:439.7px;top:775.4px;width:77.2px;height:161.1px;background:#ededed"></div>
<div class="abs" style="left:516.9px;top:775.4px;width:77.8px;height:161.1px;background:#f7f7f7"></div>
<div class="abs" style="left:594.7px;top:775.4px;width:77.6px;height:161.1px;background:#ededed"></div>
<div class="hb" style="left:286.3px;top:778.2px;width:321.3px;height:15.5px"></div>
<div class="hb" style="left:286.3px;top:797.8px;width:314.3px;height:15.4px"></div>
<div class="hb" style="left:286.3px;top:818px;width:309.6px;height:15.6px"></div>
<div class="hb" style="left:286.3px;top:837.1px;width:303.7px;height:15px"></div>
<div class="hb" style="left:286.3px;top:858.2px;width:155.1px;height:15.5px"></div>
<div class="hb" style="left:286.3px;top:878px;width:79.1px;height:15.3px"></div>
<div class="hb" style="left:286.3px;top:898.8px;width:52.2px;height:15.4px"></div>
<div class="hb" style="left:286.3px;top:919.5px;width:5.3px;height:15.5px"></div>
<div class="ax" style="left:284.7px;top:775.6px;width:1.6px;height:161.6px"></div>
<div class="ax" style="left:281.1px;top:935.8px;width:390.9px;height:1.5px"></div>
<div class="ax" style="left:281.1px;top:775.6px;width:4.4px;height:1.3px"></div>
<div class="ax" style="left:281.1px;top:795.4px;width:4.4px;height:1.3px"></div>
<div class="ax" style="left:281.1px;top:814.9px;width:4.4px;height:1.3px"></div>
<div class="ax" style="left:281.1px;top:835.2px;width:4.4px;height:1.3px"></div>
<div class="ax" style="left:281.1px;top:855.6px;width:4.4px;height:1.3px"></div>
<div class="ax" style="left:281.1px;top:875.4px;width:4.4px;height:1.3px"></div>
<div class="ax" style="left:281.1px;top:895.9px;width:4.4px;height:1.3px"></div>
<div class="ax" style="left:281.1px;top:916.2px;width:4.4px;height:1.3px"></div>
<div class="hl h2" style="left:64.3px;top:778.9px"><span class="t">采购</span>20.51%</div>
<div class="hl h2" style="left:64.3px;top:799.2px"><span class="t">需求特殊解决方案、创新技术</span>20.18%</div>
<div class="hl h2" style="left:64.3px;top:819.4px"><span class="t">联络供应商和销售商</span>20.10%</div>
<div class="hl h2" style="left:64.3px;top:839.7px"><span class="t">收集和了解市场信息</span>19.36%</div>
<div class="hl h2" style="left:64.3px;top:860px"><span class="t">寻求并确定新的代理商、分销商及合作伙伴</span>10.77%</div>
<div class="hl h2" style="left:64.3px;top:880.2px"><span class="t">参加获益</span>5.14%</div>
<div class="hl h2" style="left:64.3px;top:900.5px"><span class="t">评估参展可能性</span>3.56%</div>
<div class="hl h2" style="left:64.3px;top:920.8px"><span class="t">其他</span>0.38%</div>
<div class="al" style="left:347.7px;top:944.5px">5%</div>
<div class="al" style="left:425.5px;top:944.5px">10%</div>
<div class="al" style="left:499.5px;top:944.5px">15%</div>
<div class="al" style="left:576px;top:944.5px">20%</div>
<div class="al" style="left:653.9px;top:944.5px">25%</div>
</div>
</body></html>
